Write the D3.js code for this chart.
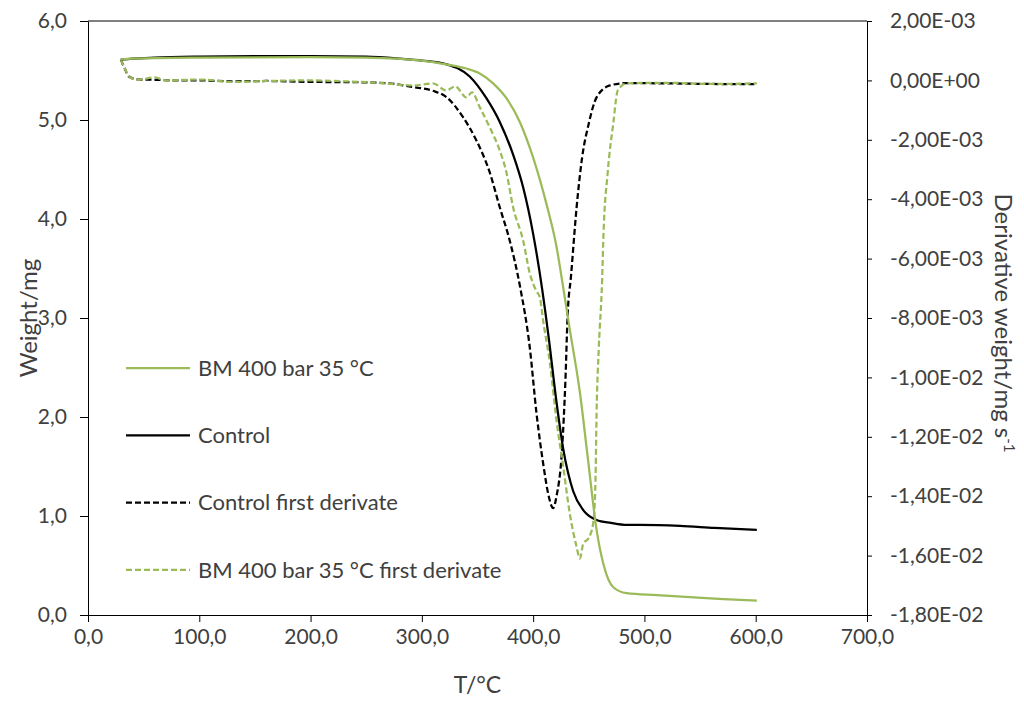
<!DOCTYPE html>
<html>
<head>
<meta charset="utf-8">
<script src="https://cdn.jsdelivr.net/npm/d3@7"></script>
<style>
  body { margin: 0; background: #fff; }
  text { font-family: Lato, "Open Sans", sans-serif; fill: #404040; }
</style>
</head>
<body>
<div id="chart"></div>
<script>
// weight curves (left axis, mg)
var ctrlT = [29.5, 40, 60, 100, 150, 200, 250, 280, 300, 323, 343, 358, 370, 382, 391, 400, 408, 414, 421, 427, 436, 445, 457, 470, 484, 496, 532, 563, 601]
var ctrlW = [5.61, 5.62, 5.63, 5.64, 5.645, 5.645, 5.64, 5.62, 5.60, 5.56, 5.44, 5.22, 4.98, 4.65, 4.32, 3.85, 3.30, 2.80, 2.15, 1.68, 1.25, 1.06, 0.96, 0.93, 0.91, 0.91, 0.90, 0.88, 0.86]

var bmT = [29.5, 40, 100, 200, 250, 300, 323, 340, 352, 364, 376, 388, 400, 412, 421, 427, 433, 442, 449, 457, 463, 472, 484, 511, 541, 571, 601]
var bmW = [5.61, 5.62, 5.63, 5.635, 5.63, 5.60, 5.56, 5.52, 5.47, 5.37, 5.22, 4.98, 4.62, 4.15, 3.72, 3.31, 2.88, 2.25, 1.60, 0.86, 0.52, 0.28, 0.22, 0.20, 0.18, 0.16, 0.145]

// first derivative curves (right axis, mg/s)
var ctrlDT = [29.5, 33, 37, 45, 60, 80, 100, 130, 160, 200, 240, 270, 292, 310, 322, 337, 349, 361, 370, 379, 388, 397, 403, 409, 414, 418, 421, 426, 429, 431, 434, 439, 444, 450, 457, 469, 484, 520, 560, 601]
var ctrlD = [0.0007, 0.0004, 0.00012, 0.00003, 0.00002, 0.0, 0.0, -0.00003, -0.00002, -0.00005, -0.00006, -0.0001, -0.00022, -0.00035, -0.00056, -0.00124, -0.00202, -0.0031, -0.00427, -0.0054, -0.0069, -0.0090, -0.0112, -0.0129, -0.0140, -0.0144, -0.0140, -0.0124, -0.0101, -0.0079, -0.0066, -0.0043, -0.0026, -0.00145, -0.00057, -0.00017, -0.00009, -0.0001, -0.00012, -0.00013]

var bmDT = [29.5, 33, 38, 45, 60, 70, 100, 130, 160, 200, 230, 260, 292, 310, 322, 330, 340, 345, 352, 361, 370, 376, 382, 391, 397, 403, 406, 409, 415, 421, 427, 433, 439, 442, 445, 450, 454, 456, 457, 459, 462, 463, 467, 472, 476, 484, 520, 560, 601]
var bmD = [0.0007, 0.0004, 0.0001, 0.00002, 0.0001, 0.0, 0.00003, -0.00005, -0.00002, 0.0, -0.00003, -0.00008, -0.00017, -0.0001, -0.00034, -0.0002, -0.00057, -0.0004, -0.0009, -0.00158, -0.00236, -0.0031, -0.00427, -0.00539, -0.0065, -0.0071, -0.0073, -0.0081, -0.0095, -0.01145, -0.0130, -0.0146, -0.0157, -0.0161, -0.0156, -0.0154, -0.0149, -0.0135, -0.0112, -0.0090, -0.0067, -0.0054, -0.0031, -0.00145, -0.00034, -0.0001, -0.00008, -0.00012, -0.0001]

var xTicks = [0, 100, 200, 300, 400, 500, 600, 700]
var yTicks = [0, 1, 2, 3, 4, 5, 6]
var y2Ticks = [0.002, 0, -0.002, -0.004, -0.006, -0.008, -0.01, -0.012, -0.014, -0.016, -0.018]

var legendNames = ["BM 400 bar 35 \u00b0C", "Control", "Control first derivate", "BM 400 bar 35 \u00b0C first derivate"]

var green = "#9bbb59"

var width = 1024, height = 702
var plot = {left: 88, right: 867, top: 21, bottom: 615}

var svg = d3.select("#chart").append("svg")
  .attr("width", width)
  .attr("height", height)

var x = d3.scaleLinear().domain([0, 700]).range([plot.left, plot.right])
var y = d3.scaleLinear().domain([0, 6]).range([plot.bottom, plot.top])
var y2 = d3.scaleLinear().domain([-0.018, 0.002]).range([plot.bottom, plot.top])

var comma1 = d => d3.format(".1f")(d).replace(".", ",")

function sci(d) {
  var s = d.toExponential(2).split("e")
  var exp = +s[1]
  var e = (exp < 0 ? "-" : "+") + String(Math.abs(exp)).padStart(2, "0")
  return s[0].replace(".", ",") + "E" + e
}

// top border
svg.append("line")
  .attr("x1", plot.left).attr("x2", plot.right)
  .attr("y1", plot.top).attr("y2", plot.top)
  .attr("stroke", "#000").attr("stroke-width", 1)

var xAxis = svg.append("g")
  .attr("transform", "translate(0," + plot.bottom + ")")
  .call(d3.axisBottom(x).tickValues(xTicks).tickFormat(comma1).tickSize(7).tickSizeOuter(0))

var yAxis = svg.append("g")
  .attr("transform", "translate(" + plot.left + ",0)")
  .call(d3.axisLeft(y).tickValues(yTicks).tickFormat(comma1).tickSize(8).tickSizeOuter(0))

var y2Axis = svg.append("g")
  .attr("transform", "translate(" + plot.right + ",0)")
  .call(d3.axisRight(y2).tickValues(y2Ticks).tickFormat(sci).tickSize(5).tickSizeOuter(0))

svg.selectAll(".domain, .tick line").attr("stroke", "#000")
svg.selectAll(".tick text").style("font-size", "21px").attr("fill", "#404040")
  .style("font-family", "Lato, sans-serif")
xAxis.selectAll(".tick text").attr("y", 14)
yAxis.selectAll(".tick text").attr("x", -21)
y2Axis.selectAll(".tick text").attr("x", 23)

// axis titles
svg.append("text")
  .attr("x", (plot.left + plot.right) / 2).attr("y", 693)
  .attr("text-anchor", "middle")
  .style("font-size", "23px")
  .text("T/\u00b0C")

svg.append("text")
  .attr("transform", "translate(37," + (plot.top + plot.bottom) / 2 + ") rotate(-90)")
  .attr("text-anchor", "middle")
  .style("font-size", "24px")
  .text("Weight/mg")

var rt = svg.append("text")
  .attr("transform", "translate(995,323) rotate(90)")
  .attr("text-anchor", "middle")
  .style("font-size", "24px")
rt.append("tspan").text("Derivative weight/mg s")
rt.append("tspan").attr("dy", -9).style("font-size", "15px").text("-1")

// lines
var lineW = d3.line().x(d => x(d[0])).y(d => y(d[1])).curve(d3.curveMonotoneX)
var lineD = d3.line().x(d => x(d[0])).y(d => y2(d[1])).curve(d3.curveMonotoneX)

var series = [
  {t: ctrlDT, v: ctrlD, line: lineD, color: "#000", dash: "6,3"},
  {t: bmDT, v: bmD, line: lineD, color: green, dash: "6,3"},
  {t: ctrlT, v: ctrlW, line: lineW, color: "#000", dash: null},
  {t: bmT, v: bmW, line: lineW, color: green, dash: null}
]

series.forEach(s => {
  svg.append("path")
    .datum(d3.zip(s.t, s.v))
    .attr("fill", "none")
    .attr("stroke", s.color)
    .attr("stroke-width", 2.25)
    .attr("stroke-dasharray", s.dash)
    .attr("d", s.line)
})

// legend
var legendStyle = [
  {color: green, dash: null},
  {color: "#000", dash: null},
  {color: "#000", dash: "6,3"},
  {color: green, dash: "6,3"}
]

var legend = svg.append("g")
legendNames.forEach((name, i) => {
  var ly = 368 + i * 67.3
  legend.append("line")
    .attr("x1", 126).attr("x2", 190)
    .attr("y1", ly).attr("y2", ly)
    .attr("stroke", legendStyle[i].color)
    .attr("stroke-width", 2.25)
    .attr("stroke-dasharray", legendStyle[i].dash)
  legend.append("text")
    .attr("x", 198).attr("y", ly)
    .attr("dy", "0.35em")
    .style("font-size", "22px")
    .text(name)
})
</script>
</body>
</html>
